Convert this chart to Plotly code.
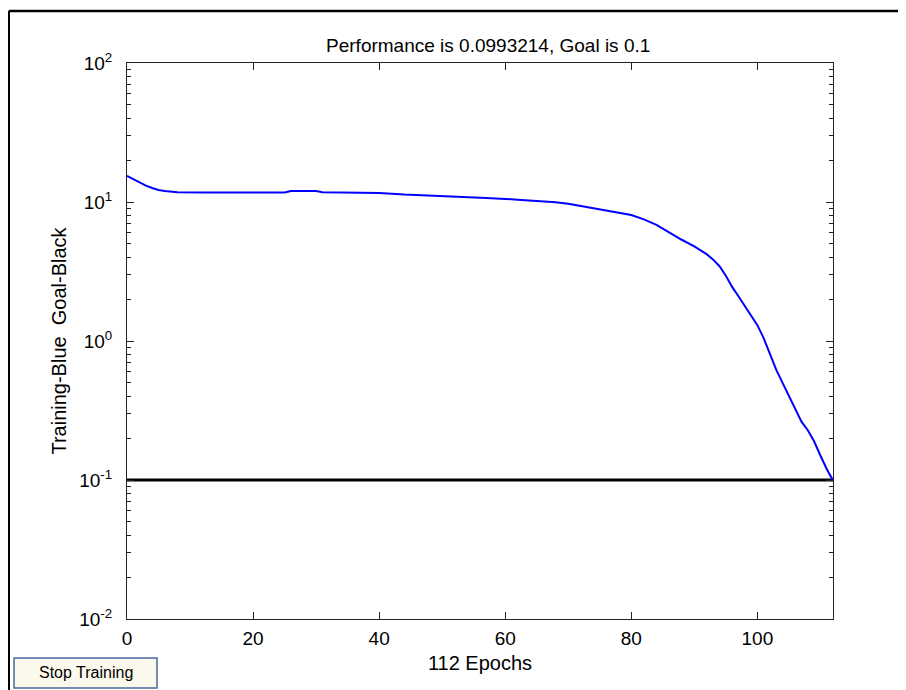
import plotly.graph_objects as go

# Training record (epoch, performance)
epochs = [0, 1, 2, 3, 4, 5, 6, 8, 12, 20, 25, 26, 30, 31, 36, 40, 44, 50, 55, 57,
          62, 65, 68, 70, 72, 74, 76, 78, 80, 82, 84, 86, 88, 90, 91, 92, 93, 94, 95,
          96, 97, 98, 99, 100, 101, 102, 103, 104, 105, 106, 107, 108, 109, 110, 111, 112]
perf = [15.4, 14.6, 13.8, 13.1, 12.6, 12.2, 12.0, 11.75, 11.7, 11.7, 11.7, 12.0, 12.0, 11.75,
        11.7, 11.6, 11.3, 11.05, 10.8, 10.7, 10.4, 10.2, 9.95, 9.7, 9.35, 9.05, 8.75, 8.4,
        8.05, 7.5, 6.85, 6.05, 5.35, 4.8, 4.5, 4.2, 3.85, 3.45, 2.95, 2.45, 2.1, 1.8,
        1.55, 1.3, 1.05, 0.8, 0.62, 0.5, 0.4, 0.32, 0.263, 0.228, 0.19, 0.15, 0.12, 0.0993]

goal = 0.1
goal_x = [0, 112]
x_ticks = [0, 20, 40, 60, 80, 100]
y_ticks = [0.01, 0.1, 1, 10, 100]
y_ticktext = ["10<sup>-2</sup>", "10<sup>-1</sup>", "10<sup>0</sup>", "10<sup>1</sup>", "10<sup>2</sup>"]
y_minor = [m * d for d in [0.01, 0.1, 1, 10] for m in range(2, 10)]

font = "Liberation Sans, Arial, sans-serif"

fig = go.Figure()
fig.add_trace(go.Scatter(x=goal_x, y=[goal, goal], mode="lines",
                         line=dict(color="black", width=2.8), hoverinfo="skip"))
fig.add_trace(go.Scatter(x=epochs, y=perf, mode="lines",
                         line=dict(color="#0000ff", width=2)))

axis_common = dict(showgrid=False, zeroline=False, showline=True, linecolor="#222222",
                   linewidth=1, mirror="ticks", ticks="inside", tickcolor="#222222",
                   tickwidth=1, ticklen=7, tickfont=dict(family=font, size=19, color="black"))

fig.update_xaxes(range=[0, 112], tickmode="array", tickvals=x_ticks,
                 title=dict(text="112 Epochs", font=dict(family=font, size=20, color="black"),
                            standoff=8),
                 ticklabelstandoff=2, **axis_common)
fig.update_yaxes(type="log", range=[-2, 2], tickmode="array", tickvals=y_ticks,
                 ticktext=y_ticktext,
                 minor=dict(ticks="inside", tickmode="array", tickvals=y_minor, ticklen=4,
                            tickcolor="#222222", tickwidth=1, showgrid=False),
                 title=dict(text="Training-Blue  Goal-Black",
                            font=dict(family=font, size=20, color="black"), standoff=7),
                 ticklabelstandoff=10, **axis_common)

# the page body adds an 8px offset, so margins are shifted to compensate
fig.update_layout(
    width=906, height=690,
    margin=dict(l=119, r=81, t=55, b=79),
    paper_bgcolor="white", plot_bgcolor="white",
    showlegend=False,
    title=dict(text="Performance is 0.0993214, Goal is 0.1", x=0.53, xanchor="center",
               y=1 - 37 / 690, yanchor="middle",
               font=dict(family=font, size=19, color="black")),
    shapes=[
        # outer window frame (top and left edges)
        dict(type="line", xref="paper", yref="paper", x0=-0.1675, x1=1.2, y0=1.0935, y1=1.0935,
             line=dict(color="black", width=2.5)),
        dict(type="line", xref="paper", yref="paper", x0=-0.1675, x1=-0.1675, y0=1.0935, y1=-0.2,
             line=dict(color="black", width=2.5)),
        # Stop Training button
        dict(type="rect", xref="paper", yref="paper", x0=-0.160, x1=0.0425, y0=-0.0701, y1=-0.1241,
             line=dict(color="#4a6a9a", width=1.5), fillcolor="#fbf8ec"),
    ],
    annotations=[
        dict(text="Stop Training", xref="paper", yref="paper", x=(-0.160 + 0.0425) / 2,
             y=(-0.0701 - 0.1241) / 2, xanchor="center", yanchor="middle", showarrow=False,
             font=dict(family=font, size=16, color="black")),
    ],
)

fig.write_html("out.html")
